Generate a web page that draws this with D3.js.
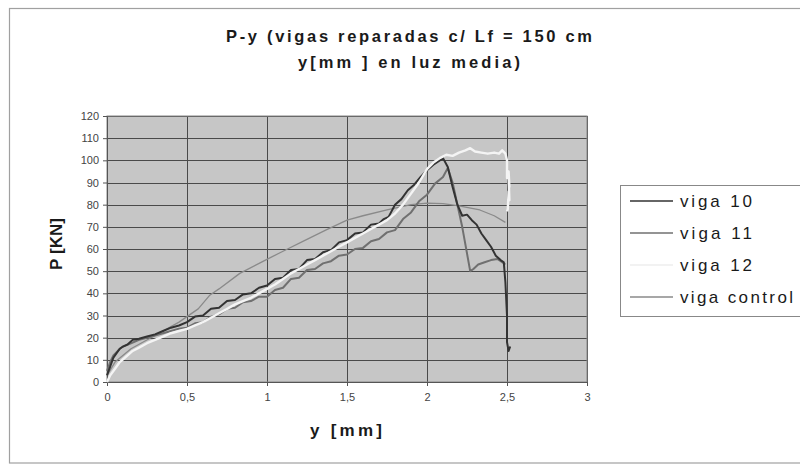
<!DOCTYPE html>
<html><head><meta charset="utf-8">
<script src="https://cdn.jsdelivr.net/npm/d3@7/dist/d3.min.js"></script>
<style>body{margin:0;background:#fff}svg{display:block}text{font-family:"Liberation Sans",Arial,sans-serif}</style>
</head><body>
<script>
const titleLines = ["P-y (vigas reparadas c/ Lf = 150 cm", "y[mm ] en luz media)"];
const xLabel = "y [mm]";
const yLabel = "P [KN]";
const xTicks = [0, 0.5, 1, 1.5, 2, 2.5, 3];
const yTicks = [0, 10, 20, 30, 40, 50, 60, 70, 80, 90, 100, 110, 120];
const seriesNames = ["viga 10", "viga 11", "viga 12", "viga control"];

const viga10X = [0,0.02,0.04,0.06,0.08,0.1,0.13,0.16,0.2,0.25,0.3,0.35,0.4,0.45,0.5,0.55,0.6,0.65,0.7,0.75,0.8,0.85,0.9,0.95,1.0,1.05,1.1,1.15,1.2,1.25,1.3,1.35,1.4,1.45,1.5,1.55,1.6,1.65,1.7,1.73,1.76,1.8,1.84,1.88,1.92,1.96,2.0,2.04,2.08,2.1,2.13,2.16,2.19,2.22,2.25,2.28,2.31,2.34,2.37,2.4,2.43,2.46,2.48,2.49,2.5,2.5,2.51,2.52];
const viga10P = [3,7,11,13,15,16,17,19,19.5,20.5,21.5,23,24.5,25.5,27,29.5,30,33,33.5,36.5,37,39.5,40,42.5,43.5,46.5,47,50.5,51,55,55.5,58.5,59.5,63,64,67,67.5,71,71.5,73.5,74.5,80,82.5,86.5,89,92.5,95.5,98,100,101,97,88,80,75,75.5,73,71,67,64,61,57,55,54,45,30,18,14,16];

const viga11X = [0,0.02,0.04,0.06,0.08,0.1,0.15,0.2,0.25,0.3,0.35,0.4,0.45,0.5,0.55,0.6,0.65,0.7,0.75,0.8,0.85,0.9,0.95,1.0,1.05,1.1,1.15,1.2,1.25,1.3,1.35,1.4,1.45,1.5,1.55,1.6,1.65,1.7,1.75,1.8,1.85,1.9,1.95,2.0,2.05,2.1,2.13,2.16,2.19,2.22,2.25,2.27,2.29,2.32,2.36,2.4,2.44,2.47,2.49];
const viga11P = [5,9,12,13.5,15,16,17.5,19,20,21,22,23,24,24.5,26.5,27,29.5,30.5,33,33.5,36,36.5,38.5,38.5,41.5,42.5,46.5,47,50.5,51,53.5,54.5,57,57.5,60,60.5,63.5,64.5,67.5,68.5,73.5,76.5,81.5,84.5,89.5,92.5,96.5,90,80,70,58,50,51,53,54,55,55.5,54,53];

const viga12X = [0,0.02,0.05,0.08,0.12,0.16,0.2,0.25,0.3,0.35,0.4,0.45,0.5,0.55,0.6,0.65,0.7,0.75,0.8,0.85,0.9,0.95,1.0,1.05,1.1,1.15,1.2,1.25,1.3,1.35,1.4,1.45,1.5,1.55,1.6,1.65,1.7,1.75,1.8,1.85,1.9,1.95,2.0,2.04,2.08,2.12,2.16,2.2,2.24,2.27,2.3,2.34,2.38,2.42,2.45,2.47,2.49,2.5,2.5,2.51,2.515,2.51,2.515,2.51,2.505,2.5];
const viga12P = [0,3,6,9,11.5,14,15.5,17.5,19,20.5,22,23,24,25.5,27,29,31,33,35,36.5,38,40,42,44,46.5,49,51,53,55,57,59,61,63,65,67,69,71,73,76,80,85,90,96,99,101,102.5,102,103.5,104.5,105.5,104,103.5,103,103.5,103,104.5,103,100,92,95,88,93,82,86,78,77];

const controlX = [0,0.05,0.15,0.3,0.45,0.5,0.57,0.64,0.7,0.83,0.99,1.1,1.24,1.37,1.5,1.6,1.75,1.9,2.0,2.1,2.2,2.33,2.42,2.49];
const controlP = [3,9,15,21,27,29.5,33,39,42,49,55,59,64,68.6,73,75,77.6,80,80.7,80.5,79.5,77.6,75,72];

const seriesX = [viga10X, viga11X, viga12X, controlX];
const seriesP = [viga10P, viga11P, viga12P, controlP];
const colors = ["#333333", "#707070", "#f4f4f4", "#8a8a8a"];
const widths = [2, 2, 2.4, 1.3];

const W = 800, H = 466;
const svg = d3.select("body").append("svg").attr("width", W).attr("height", H);

svg.append("rect").attr("x", 9.5).attr("y", 8.5).attr("width", 800).attr("height", 454.5)
  .attr("fill", "#fff").attr("stroke", "#a0a0a0").attr("stroke-width", 1.2);

const x = d3.scaleLinear().domain([0, 3]).range([107, 587]);
const y = d3.scaleLinear().domain([0, 120]).range([382, 116]);

svg.append("rect").attr("x", x(0)).attr("y", y(120)).attr("width", x(3) - x(0)).attr("height", y(0) - y(120))
  .attr("fill", "#c6c6c6");

const grid = svg.append("g");
grid.selectAll(".hg").data(yTicks).join("line")
  .attr("x1", x(0)).attr("x2", x(3)).attr("y1", d => Math.round(y(d)) + 0.5).attr("y2", d => Math.round(y(d)) + 0.5)
  .attr("stroke", "#4a4a4a").attr("stroke-width", 1);
grid.selectAll(".vg").data(xTicks).join("line")
  .attr("y1", y(120)).attr("y2", y(0)).attr("x1", d => Math.round(x(d)) + 0.5).attr("x2", d => Math.round(x(d)) + 0.5)
  .attr("stroke", "#4a4a4a").attr("stroke-width", 1);
svg.append("rect").attr("x", x(0)).attr("y", y(120)).attr("width", x(3) - x(0)).attr("height", y(0) - y(120))
  .attr("fill", "none").attr("stroke", "#888").attr("stroke-width", 1);

const fmt = d => String(d).replace(".", ",");
const xAxis = svg.append("g").attr("transform", `translate(0,${y(0)})`)
  .call(d3.axisBottom(x).tickValues(xTicks).tickFormat(fmt).tickSize(4).tickPadding(7));
const yAxis = svg.append("g").attr("transform", `translate(${x(0)},0)`)
  .call(d3.axisLeft(y).tickValues(yTicks).tickSize(4).tickPadding(4));
[xAxis, yAxis].forEach(a => {
  a.select(".domain").attr("stroke", "#555");
  a.selectAll(".tick line").attr("stroke", "#555");
  a.selectAll("text").attr("fill", "#444").attr("font-size", 11);
});

const line = d3.line().x(d => x(d[0])).y(d => y(d[1]));
const order = [3, 1, 0, 2];
order.forEach(i => {
  const pts = seriesX[i].map((v, k) => [v, seriesP[i][k]]);
  svg.append("path").datum(pts).attr("d", line)
    .attr("fill", "none").attr("stroke", colors[i]).attr("stroke-width", widths[i]).attr("stroke-linejoin", "round");
});

svg.selectAll(".title").data(titleLines).join("text")
  .attr("x", 409).attr("y", (d, i) => 42 + i * 26).attr("text-anchor", "middle")
  .attr("font-size", 16.5).attr("font-weight", "bold").attr("fill", "#1a1a1a")
  .attr("textLength", (d, i) => i === 0 ? 366 : 222).attr("lengthAdjust", "spacing").text(d => d);

svg.append("text").attr("x", 346).attr("y", 436).attr("text-anchor", "middle")
  .attr("font-size", 17).attr("font-weight", "bold").attr("fill", "#1a1a1a")
  .attr("textLength", 72).attr("lengthAdjust", "spacing").text(xLabel);
svg.append("text").attr("transform", "translate(62,244) rotate(-90)").attr("text-anchor", "middle")
  .attr("font-size", 17).attr("font-weight", "bold").attr("fill", "#1a1a1a")
  .attr("textLength", 52).attr("lengthAdjust", "spacing").text(yLabel);

const lg = svg.append("g");
lg.append("rect").attr("x", 620.5).attr("y", 185.5).attr("width", 190).attr("height", 131)
  .attr("fill", "#fff").attr("stroke", "#888").attr("stroke-width", 1);
const legY = d3.scalePoint().domain(seriesNames).range([201, 297]);
seriesNames.forEach((n, i) => {
  lg.append("line").attr("x1", 630).attr("x2", 673).attr("y1", legY(n)).attr("y2", legY(n))
    .attr("stroke", i === 2 ? "#eeeeee" : colors[i]).attr("stroke-width", 1.5);
  lg.append("text").attr("x", 680).attr("y", legY(n) + 6).attr("font-size", 17).attr("fill", "#1a1a1a")
    .attr("textLength", i === 3 ? 113 : 72).attr("lengthAdjust", "spacing").text(n);
});
</script>
</body></html>
